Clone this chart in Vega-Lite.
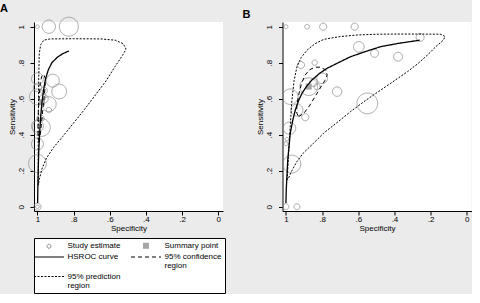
{
  "$schema": "https://vega.github.io/schema/vega-lite/v6.json",
  "background": "#ebebeb",
  "padding": {"left": 0, "top": 2, "right": 0, "bottom": 0},
  "spacing": 19.5,
  "config": {
    "font": "Liberation Sans",
    "view": {"fill": "white", "stroke": null},
    "axis": {"grid": false, "domainColor": "black", "tickColor": "black", "labelColor": "black", "titleColor": "black", "labelFontSize": 8, "titleFontSize": 8, "titleFontWeight": "normal", "tickSize": 4, "domainWidth": 1, "tickWidth": 1, "labelFont": "Liberation Sans", "titleFont": "Liberation Sans"}
  },
  "datasets": {
    "aStudy": [
      {"spec": 1.0, "sens": 1.0, "n": 4}, {"spec": 0.937, "sens": 1.0, "n": 56}, {"spec": 0.826, "sens": 1.0, "n": 114},
      {"spec": 1.0, "sens": 0.71, "n": 45}, {"spec": 0.915, "sens": 0.70, "n": 53}, {"spec": 1.0, "sens": 0.663, "n": 22},
      {"spec": 0.965, "sens": 0.645, "n": 16}, {"spec": 0.88, "sens": 0.64, "n": 69}, {"spec": 1.0, "sens": 0.61, "n": 81},
      {"spec": 0.965, "sens": 0.60, "n": 25}, {"spec": 0.937, "sens": 0.57, "n": 69}, {"spec": 0.937, "sens": 0.537, "n": 9},
      {"spec": 0.983, "sens": 0.49, "n": 16}, {"spec": 0.978, "sens": 0.44, "n": 100}, {"spec": 1.0, "sens": 0.448, "n": 45},
      {"spec": 1.0, "sens": 0.348, "n": 45}, {"spec": 1.0, "sens": 0.24, "n": 100}, {"spec": 1.0, "sens": 0.0, "n": 16},
      {"spec": 1.0, "sens": 0.0, "n": 4}
    ],
    "aSum": [{"spec": 0.975, "sens": 0.58}],
    "aCurve": [
      {"spec": 0.999, "sens": 0.02}, {"spec": 0.997, "sens": 0.15}, {"spec": 0.993, "sens": 0.30}, {"spec": 0.988, "sens": 0.41},
      {"spec": 0.982, "sens": 0.50}, {"spec": 0.975, "sens": 0.58}, {"spec": 0.966, "sens": 0.65}, {"spec": 0.955, "sens": 0.71},
      {"spec": 0.94, "sens": 0.76}, {"spec": 0.92, "sens": 0.80}, {"spec": 0.89, "sens": 0.83}, {"spec": 0.86, "sens": 0.85},
      {"spec": 0.826, "sens": 0.865}
    ],
    "aConf": [
      {"spec": 0.99, "sens": 0.36}, {"spec": 0.982, "sens": 0.42}, {"spec": 0.974, "sens": 0.50}, {"spec": 0.966, "sens": 0.58},
      {"spec": 0.958, "sens": 0.66}, {"spec": 0.956, "sens": 0.71}, {"spec": 0.965, "sens": 0.735}, {"spec": 0.976, "sens": 0.725},
      {"spec": 0.984, "sens": 0.69}, {"spec": 0.99, "sens": 0.62}, {"spec": 0.995, "sens": 0.53}, {"spec": 0.997, "sens": 0.44},
      {"spec": 0.996, "sens": 0.38}, {"spec": 0.99, "sens": 0.36}
    ],
    "aPred": [
      {"spec": 0.995, "sens": 0.12}, {"spec": 0.996, "sens": 0.30}, {"spec": 0.995, "sens": 0.50}, {"spec": 0.993, "sens": 0.70},
      {"spec": 0.99, "sens": 0.85}, {"spec": 0.982, "sens": 0.90}, {"spec": 0.965, "sens": 0.925}, {"spec": 0.93, "sens": 0.932},
      {"spec": 0.80, "sens": 0.933}, {"spec": 0.65, "sens": 0.932}, {"spec": 0.57, "sens": 0.925}, {"spec": 0.525, "sens": 0.905},
      {"spec": 0.51, "sens": 0.875}, {"spec": 0.53, "sens": 0.84}, {"spec": 0.57, "sens": 0.78}, {"spec": 0.62, "sens": 0.70},
      {"spec": 0.68, "sens": 0.62}, {"spec": 0.74, "sens": 0.54}, {"spec": 0.80, "sens": 0.465}, {"spec": 0.86, "sens": 0.39},
      {"spec": 0.91, "sens": 0.33}, {"spec": 0.95, "sens": 0.27}, {"spec": 0.975, "sens": 0.21}, {"spec": 0.99, "sens": 0.15},
      {"spec": 0.995, "sens": 0.12}
    ],
    "bStudy": [
      {"spec": 1.0, "sens": 1.0, "n": 5}, {"spec": 0.883, "sens": 1.0, "n": 7}, {"spec": 0.794, "sens": 1.0, "n": 16},
      {"spec": 0.62, "sens": 1.0, "n": 16}, {"spec": 0.258, "sens": 0.94, "n": 20}, {"spec": 0.597, "sens": 0.888, "n": 36},
      {"spec": 0.51, "sens": 0.852, "n": 20}, {"spec": 0.38, "sens": 0.833, "n": 25}, {"spec": 0.917, "sens": 0.787, "n": 16},
      {"spec": 0.841, "sens": 0.80, "n": 9}, {"spec": 0.874, "sens": 0.667, "n": 100}, {"spec": 0.80, "sens": 0.713, "n": 36},
      {"spec": 0.828, "sens": 0.667, "n": 12}, {"spec": 0.847, "sens": 0.69, "n": 20}, {"spec": 0.717, "sens": 0.639, "n": 28},
      {"spec": 0.55, "sens": 0.574, "n": 137}, {"spec": 0.976, "sens": 0.611, "n": 76}, {"spec": 0.939, "sens": 0.537, "n": 45},
      {"spec": 0.893, "sens": 0.497, "n": 16}, {"spec": 0.98, "sens": 0.436, "n": 49}, {"spec": 1.0, "sens": 0.35, "n": 5},
      {"spec": 0.995, "sens": 0.375, "n": 4}, {"spec": 0.967, "sens": 0.237, "n": 100}, {"spec": 1.0, "sens": 0.0, "n": 11},
      {"spec": 0.939, "sens": 0.0, "n": 11}
    ],
    "bSum": [{"spec": 0.874, "sens": 0.667}],
    "bCurve": [
      {"spec": 1.0, "sens": 0.02}, {"spec": 0.998, "sens": 0.10}, {"spec": 0.99, "sens": 0.26}, {"spec": 0.976, "sens": 0.41},
      {"spec": 0.96, "sens": 0.49}, {"spec": 0.948, "sens": 0.537}, {"spec": 0.93, "sens": 0.59}, {"spec": 0.911, "sens": 0.63},
      {"spec": 0.885, "sens": 0.67}, {"spec": 0.856, "sens": 0.704}, {"spec": 0.815, "sens": 0.74}, {"spec": 0.772, "sens": 0.769},
      {"spec": 0.71, "sens": 0.80}, {"spec": 0.643, "sens": 0.833}, {"spec": 0.56, "sens": 0.862}, {"spec": 0.476, "sens": 0.889},
      {"spec": 0.38, "sens": 0.907}, {"spec": 0.26, "sens": 0.925}
    ],
    "bConf": [
      {"spec": 0.93, "sens": 0.50}, {"spec": 0.90, "sens": 0.52}, {"spec": 0.87, "sens": 0.56}, {"spec": 0.84, "sens": 0.61},
      {"spec": 0.81, "sens": 0.66}, {"spec": 0.785, "sens": 0.70}, {"spec": 0.772, "sens": 0.73}, {"spec": 0.78, "sens": 0.76},
      {"spec": 0.81, "sens": 0.775}, {"spec": 0.84, "sens": 0.775}, {"spec": 0.87, "sens": 0.76}, {"spec": 0.895, "sens": 0.73},
      {"spec": 0.915, "sens": 0.68}, {"spec": 0.93, "sens": 0.62}, {"spec": 0.94, "sens": 0.56}, {"spec": 0.94, "sens": 0.52},
      {"spec": 0.93, "sens": 0.50}
    ],
    "bPred": [
      {"spec": 0.993, "sens": 0.15}, {"spec": 0.985, "sens": 0.30}, {"spec": 0.976, "sens": 0.45}, {"spec": 0.968, "sens": 0.58},
      {"spec": 0.955, "sens": 0.70}, {"spec": 0.939, "sens": 0.778}, {"spec": 0.915, "sens": 0.83}, {"spec": 0.883, "sens": 0.87},
      {"spec": 0.84, "sens": 0.905}, {"spec": 0.79, "sens": 0.93}, {"spec": 0.70, "sens": 0.945}, {"spec": 0.606, "sens": 0.954},
      {"spec": 0.50, "sens": 0.958}, {"spec": 0.40, "sens": 0.959}, {"spec": 0.25, "sens": 0.959}, {"spec": 0.143, "sens": 0.958},
      {"spec": 0.12, "sens": 0.945}, {"spec": 0.13, "sens": 0.925}, {"spec": 0.17, "sens": 0.89}, {"spec": 0.217, "sens": 0.843},
      {"spec": 0.27, "sens": 0.795}, {"spec": 0.328, "sens": 0.75}, {"spec": 0.40, "sens": 0.70}, {"spec": 0.476, "sens": 0.648},
      {"spec": 0.56, "sens": 0.59}, {"spec": 0.643, "sens": 0.528}, {"spec": 0.72, "sens": 0.465}, {"spec": 0.79, "sens": 0.41},
      {"spec": 0.85, "sens": 0.35}, {"spec": 0.902, "sens": 0.30}, {"spec": 0.94, "sens": 0.25}, {"spec": 0.967, "sens": 0.20},
      {"spec": 0.985, "sens": 0.16}, {"spec": 0.993, "sens": 0.15}
    ]
  },
  "hconcat": [
    {
      "title": {"text": "A", "anchor": "start", "frame": "bounds", "fontSize": 11, "fontWeight": "bold", "offset": 2, "dx": -8},
      "width": 189, "height": 189,
      "encoding": {
        "x": {"field": "spec", "type": "quantitative", "scale": {"domain": [-0.026, 1.019], "reverse": true, "nice": false, "zero": false},
              "axis": {"title": "Specificity", "values": [0, 0.2, 0.4, 0.6, 0.8, 1], "labelExpr": "replace(format(datum.value, '~g'), '0.', '.')", "labelPadding": 0, "titlePadding": 1}},
        "y": {"field": "sens", "type": "quantitative", "scale": {"domain": [-0.024, 1.026], "nice": false, "zero": false},
              "axis": {"title": "Sensitivity", "values": [0, 0.2, 0.4, 0.6, 0.8, 1], "labelExpr": "replace(format(datum.value, '~g'), '0.', '.')", "labelAngle": -90, "labelAlign": "center", "labelBaseline": "bottom", "labelPadding": 5, "titlePadding": 1}}
      },
      "layer": [
        {"data": {"name": "aStudy"}, "mark": {"type": "point", "shape": "circle", "filled": false, "stroke": "#8c8c8c", "strokeWidth": 0.8, "opacity": 1},
         "encoding": {
           "size": {"field": "n", "type": "quantitative", "scale": {"domain": [0, 100], "range": [0, 314], "zero": true}, "legend": null},
           "strokeDash": {"datum": "Study estimate", "type": "nominal",
             "scale": {"domain": ["Study estimate", "Summary point", "HSROC curve", "95% confidence region", "95% prediction region"], "range": [[1, 0], [1, 0], [1, 0], [4, 3], [2, 1.5]]},
             "legend": {"title": null, "orient": "none", "legendX": 0, "legendY": 216, "direction": "horizontal", "columns": 2, "symbolSize": 64, "symbolStrokeWidth": 1, "symbolOffset": 7.5, "labelFontSize": 8, "labelColor": "black", "labelFont": "Liberation Sans",
               "labelOffset": 14, "columnPadding": 8, "rowPadding": 1.5, "padding": 3, "strokeColor": "black", "fillColor": "white", "labelLimit": 200,
               "labelExpr": "datum.label == '95% confidence region' ? ['95% confidence', 'region'] : datum.label == '95% prediction region' ? ['95% prediction', 'region'] : datum.label",
               "encoding": {
                 "symbols": {
                   "shape": {"value": {"expr": "datum.value === 'Study estimate' ? 'M0.5,0A0.5,0.5,0,1,1,-0.5,0A0.5,0.5,0,1,1,0.5,0Z' : datum.value === 'Summary point' ? 'M-0.75,-0.75H0.75V0.75H-0.75Z' : 'M-3.75,0H3.75'"}},
                   "fill": {"value": {"expr": "datum.value === 'Summary point' ? '#a6a6a6' : 'transparent'"}},
                   "stroke": {"value": {"expr": "datum.value === 'Study estimate' ? '#8c8c8c' : datum.value === 'Summary point' ? 'transparent' : 'black'"}},
                   "opacity": {"value": 1}
                 },
                 "labels": {"lineHeight": {"value": 9}}
               }}}
         }},
        {"data": {"name": "aSum"}, "mark": {"type": "point", "shape": "square", "filled": true, "color": "#a6a6a6", "size": 36, "opacity": 1},
         "encoding": {"strokeDash": {"datum": "Summary point", "type": "nominal"}}},
        {"data": {"name": "aPred"}, "mark": {"type": "line", "color": "black", "strokeWidth": 1},
         "encoding": {"strokeDash": {"datum": "95% prediction region", "type": "nominal"}, "order": {"value": null}}},
        {"data": {"name": "aConf"}, "mark": {"type": "line", "color": "black", "strokeWidth": 1},
         "encoding": {"strokeDash": {"datum": "95% confidence region", "type": "nominal"}, "order": {"value": null}}},
        {"data": {"name": "aCurve"}, "mark": {"type": "line", "color": "black", "strokeWidth": 1.3},
         "encoding": {"strokeDash": {"datum": "HSROC curve", "type": "nominal"}, "order": {"value": null}}}
      ]
    },
    {
      "title": {"text": "B", "anchor": "start", "frame": "bounds", "fontSize": 11, "fontWeight": "bold", "offset": 2, "dx": -14},
      "width": 189, "height": 189,
      "encoding": {
        "x": {"field": "spec", "type": "quantitative", "scale": {"domain": [-0.026, 1.019], "reverse": true, "nice": false, "zero": false},
              "axis": {"title": "Specificity", "values": [0, 0.2, 0.4, 0.6, 0.8, 1], "labelExpr": "replace(format(datum.value, '~g'), '0.', '.')", "labelPadding": 0, "titlePadding": 1}},
        "y": {"field": "sens", "type": "quantitative", "scale": {"domain": [-0.024, 1.026], "nice": false, "zero": false},
              "axis": {"title": "Sensitivity", "values": [0, 0.2, 0.4, 0.6, 0.8, 1], "labelExpr": "replace(format(datum.value, '~g'), '0.', '.')", "labelAngle": -90, "labelAlign": "center", "labelBaseline": "bottom", "labelPadding": 5, "titlePadding": 1}}
      },
      "layer": [
        {"data": {"name": "bStudy"}, "mark": {"type": "point", "shape": "circle", "filled": false, "stroke": "#8c8c8c", "strokeWidth": 0.8, "opacity": 1},
         "encoding": {
           "size": {"field": "n", "type": "quantitative", "scale": {"domain": [0, 100], "range": [0, 314], "zero": true}, "legend": null},
           "strokeDash": {"datum": "Study estimate", "type": "nominal",
             "scale": {"domain": ["Study estimate", "Summary point", "HSROC curve", "95% confidence region", "95% prediction region"], "range": [[1, 0], [1, 0], [1, 0], [4, 3], [2, 1.5]]},
             "legend": {"title": null, "orient": "none", "legendX": 0, "legendY": 216, "direction": "horizontal", "columns": 2, "symbolSize": 64, "symbolStrokeWidth": 1, "symbolOffset": 7.5, "labelFontSize": 8, "labelColor": "black", "labelFont": "Liberation Sans",
               "labelOffset": 14, "columnPadding": 8, "rowPadding": 1.5, "padding": 3, "strokeColor": "black", "fillColor": "white", "labelLimit": 200,
               "labelExpr": "datum.label == '95% confidence region' ? ['95% confidence', 'region'] : datum.label == '95% prediction region' ? ['95% prediction', 'region'] : datum.label",
               "encoding": {
                 "symbols": {
                   "shape": {"value": {"expr": "datum.value === 'Study estimate' ? 'M0.5,0A0.5,0.5,0,1,1,-0.5,0A0.5,0.5,0,1,1,0.5,0Z' : datum.value === 'Summary point' ? 'M-0.75,-0.75H0.75V0.75H-0.75Z' : 'M-3.75,0H3.75'"}},
                   "fill": {"value": {"expr": "datum.value === 'Summary point' ? '#a6a6a6' : 'transparent'"}},
                   "stroke": {"value": {"expr": "datum.value === 'Study estimate' ? '#8c8c8c' : datum.value === 'Summary point' ? 'transparent' : 'black'"}},
                   "opacity": {"value": 1}
                 },
                 "labels": {"lineHeight": {"value": 9}}
               }}}
         }},
        {"data": {"name": "bSum"}, "mark": {"type": "point", "shape": "square", "filled": true, "color": "#a6a6a6", "size": 36, "opacity": 1},
         "encoding": {"strokeDash": {"datum": "Summary point", "type": "nominal"}}},
        {"data": {"name": "bPred"}, "mark": {"type": "line", "color": "black", "strokeWidth": 1},
         "encoding": {"strokeDash": {"datum": "95% prediction region", "type": "nominal"}, "order": {"value": null}}},
        {"data": {"name": "bConf"}, "mark": {"type": "line", "color": "black", "strokeWidth": 1},
         "encoding": {"strokeDash": {"datum": "95% confidence region", "type": "nominal"}, "order": {"value": null}}},
        {"data": {"name": "bCurve"}, "mark": {"type": "line", "color": "black", "strokeWidth": 1.3},
         "encoding": {"strokeDash": {"datum": "HSROC curve", "type": "nominal"}, "order": {"value": null}}}
      ]
    }
  ]
}
